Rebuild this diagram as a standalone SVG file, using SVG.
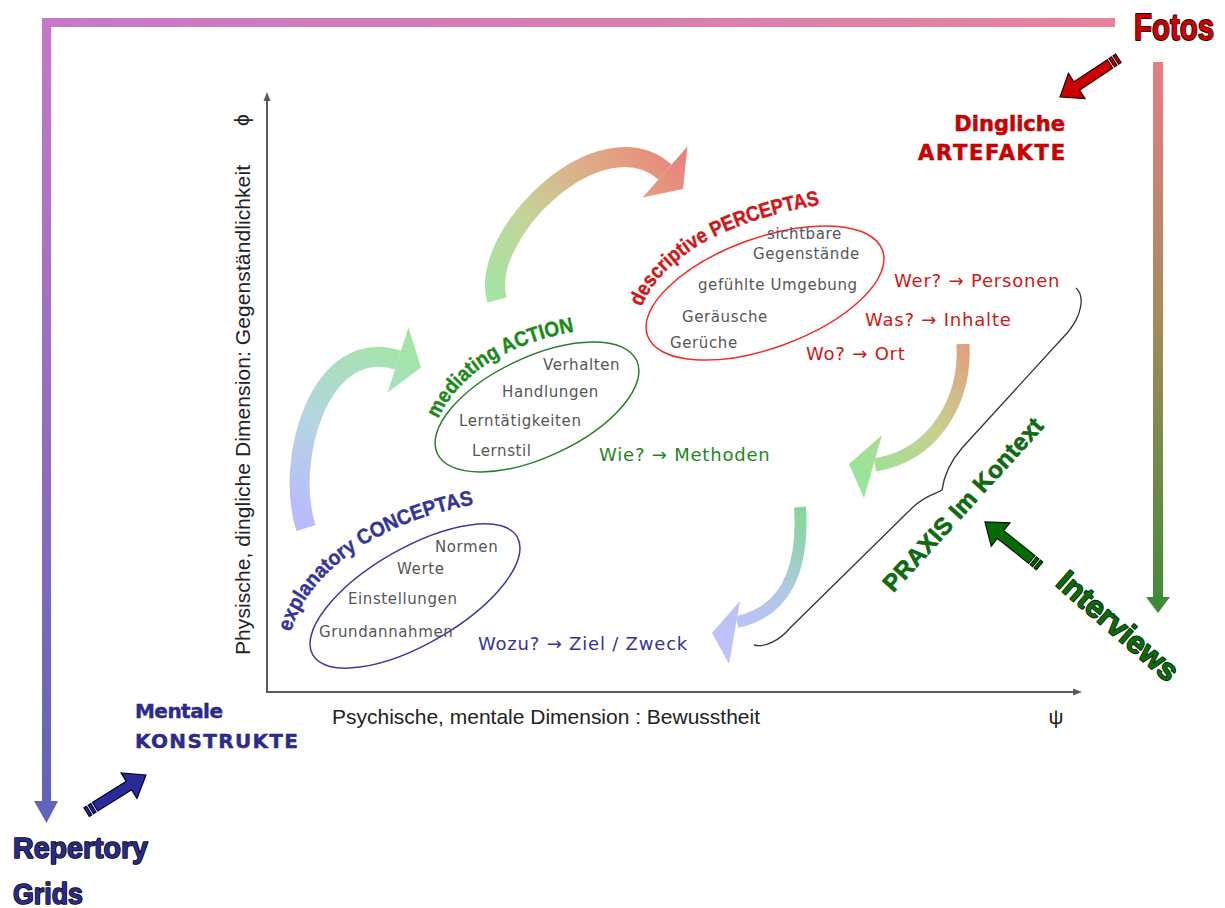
<svg xmlns="http://www.w3.org/2000/svg" width="1225" height="908" viewBox="0 0 1225 908">
  <style>
    .item { font-family: "DejaVu Sans", Verdana, sans-serif; font-size: 15px; fill: #565656; letter-spacing: 0.6px; }
    .q { font-family: "DejaVu Sans", Verdana, sans-serif; font-size: 18px; letter-spacing: 0.8px; }
    .title { font-family: "Liberation Sans", Arial, sans-serif; font-weight: bold; font-size: 21px; stroke-width: 0.4px; }
    .axislbl { font-family: "Liberation Sans", Arial, sans-serif; font-size: 21px; fill: #222; }
    .big { font-family: "Liberation Sans", Arial, sans-serif; font-weight: bold; paint-order: stroke; stroke-linejoin: round; }
    .tag { font-family: "DejaVu Sans", Verdana, sans-serif; font-weight: bold; paint-order: stroke; }
    .red { fill: #d01616; stroke: #d01616; }
    .green { fill: #1b8a1b; stroke: #1b8a1b; }
    .blue { fill: #34349c; stroke: #34349c; }
    .q.red, .q.green, .q.blue { stroke: none; }
    .axis { stroke: #5a5a5a; stroke-width: 2; fill: none; }
    .fat { stroke-width: 1.2; stroke-linejoin: miter; }
  </style>
  <defs>
    <linearGradient id="gTop" x1="42" y1="0" x2="1115" y2="0" gradientUnits="userSpaceOnUse">
      <stop offset="0" stop-color="#c678c8"/>
      <stop offset="1" stop-color="#e4849c"/>
    </linearGradient>
    <linearGradient id="gLeft" x1="0" y1="22" x2="0" y2="822" gradientUnits="userSpaceOnUse">
      <stop offset="0" stop-color="#c678c8"/>
      <stop offset="1" stop-color="#5e62ba"/>
    </linearGradient>
    <linearGradient id="gRight" x1="0" y1="62" x2="0" y2="612" gradientUnits="userSpaceOnUse">
      <stop offset="0" stop-color="#e67c84"/>
      <stop offset="0.45" stop-color="#a88a5c"/>
      <stop offset="1" stop-color="#3f8a38"/>
    </linearGradient>
    <linearGradient id="gA1" x1="300" y1="530" x2="410" y2="345" gradientUnits="userSpaceOnUse">
      <stop offset="0" stop-color="#b8b8ff"/>
      <stop offset="0.45" stop-color="#b4d4e4"/>
      <stop offset="1" stop-color="#a2e6a2"/>
    </linearGradient>
    <linearGradient id="gA2" x1="497" y1="300" x2="690" y2="160" gradientUnits="userSpaceOnUse">
      <stop offset="0" stop-color="#a4e4a4"/>
      <stop offset="0.3" stop-color="#c4d498"/>
      <stop offset="0.6" stop-color="#dcb088"/>
      <stop offset="0.8" stop-color="#e49a80"/>
      <stop offset="1" stop-color="#e8807c"/>
    </linearGradient>
    <linearGradient id="gA3" x1="963" y1="344" x2="855" y2="470" gradientUnits="userSpaceOnUse">
      <stop offset="0" stop-color="#e0a080"/>
      <stop offset="0.5" stop-color="#c8d090"/>
      <stop offset="1" stop-color="#98e498"/>
    </linearGradient>
    <linearGradient id="gA4" x1="800" y1="507" x2="715" y2="640" gradientUnits="userSpaceOnUse">
      <stop offset="0" stop-color="#84d894"/>
      <stop offset="0.5" stop-color="#b0c8e4"/>
      <stop offset="1" stop-color="#c0c0ff"/>
    </linearGradient>
    <!-- block arrow with banded tail; tip at origin, pointing along +x -->
    <path id="fatArrow" d="M0 0 L-20 -15 L-20 -5 L-60 -5 L-60 5 L-20 5 L-20 15 Z M-65 -5 L-62 -5 L-62 5 L-65 5 Z M-70 -5 L-67 -5 L-67 5 L-70 5 Z"/>
    <!-- baselines for the curved titles -->
    <path id="pPerc" d="M 641 308 C 664 255, 725 220, 830 203"/>
    <path id="pAct" d="M 438 420 C 455 380, 500 343, 584 330"/>
    <path id="pConc" d="M 291 633 C 303 580, 370 520, 488 502"/>
  </defs>

  <!-- outer frame of methods -->
  <g id="frame">
    <rect x="42" y="18" width="1073" height="9" fill="url(#gTop)"/>
    <rect x="42" y="22" width="9" height="780" fill="url(#gLeft)"/>
    <polygon points="34,801 58,801 46.5,823" fill="#6064bc"/>
    <rect x="1153" y="62" width="10" height="536" fill="url(#gRight)"/>
    <polygon points="1146,597 1170,597 1158,613" fill="#3f8a38"/>
  </g>

  <!-- coordinate axes -->
  <g id="axes">
    <line class="axis" x1="267" y1="693" x2="267" y2="100"/>
    <polygon points="263.5,101 270.5,101 267,92" fill="#5a5a5a"/>
    <line class="axis" x1="266" y1="692" x2="1074" y2="692"/>
    <polygon points="1073,688.5 1073,695.5 1082,692" fill="#5a5a5a"/>
    <text class="axislbl" transform="translate(250,410) rotate(-90)" text-anchor="middle" textLength="490">Physische, dingliche  Dimension: Gegenständlichkeit</text>
    <text class="axislbl" transform="translate(249,120) rotate(-90)" text-anchor="middle" font-size="19">ϕ</text>
    <text class="axislbl" x="332" y="724" textLength="428">Psychische, mentale Dimension : Bewusstheit</text>
    <text class="axislbl" x="1056" y="724" text-anchor="middle" font-size="18">ψ</text>
  </g>

  <!-- cycle arrows between the three levels -->
  <g id="connectors">
    <path d="M 306 528 C 284 460, 320 335, 398 360" fill="none" stroke="url(#gA1)" stroke-width="20"/>
    <polygon points="387.6,392.4 408.4,327.6 421,367.5" fill="url(#gA1)"/>
    <path d="M 497 300 C 478 235, 600 115, 665 172" fill="none" stroke="url(#gA2)" stroke-width="20"/>
    <polygon points="642.6,197.6 687.4,146.4 683,189" fill="url(#gA2)"/>
    <path d="M 963 344 C 966 400, 935 455, 875 465" fill="none" stroke="url(#gA3)" stroke-width="13"/>
    <polygon points="882,435 849,464 864,498" fill="url(#gA3)"/>
    <path d="M 800 507 C 804 570, 785 612, 737 622" fill="none" stroke="url(#gA4)" stroke-width="12"/>
    <polygon points="740,601 712,633 729,664" fill="url(#gA4)"/>
    <!-- brace grouping the three questions into practice -->
    <path d="M 1076 288 C 1085 296, 1082 315, 1068 332 L 962 448 C 950 462, 944 475, 942 490 C 936 494, 925 495, 912 508 L 790 628 C 780 640, 765 648, 754 645" fill="none" stroke="#333" stroke-width="1.3"/>
    <!-- method arrows -->
    <use href="#fatArrow" class="fat" fill="#cc0000" stroke="#2a0000" transform="translate(1060,97) rotate(146.5)"/>
    <use href="#fatArrow" class="fat" fill="#2a2a98" stroke="#000030" transform="translate(146,775) rotate(-32)"/>
    <use href="#fatArrow" class="fat" fill="#066a06" stroke="#001a00" transform="translate(985,522) rotate(-141.3)"/>
  </g>

  <g id="perceptas">
    <ellipse cx="765" cy="293" rx="125" ry="55" transform="rotate(-20 765 293)" fill="none" stroke="#f02a2a" stroke-width="1.5"/>
    <text class="title red"><textPath href="#pPerc" startOffset="1" textLength="214" lengthAdjust="spacingAndGlyphs">descriptive PERCEPTAS</textPath></text>
    <text class="item" x="767" y="239">sichtbare</text>
    <text class="item" x="753" y="259">Gegenstände</text>
    <text class="item" x="698" y="290">gefühlte Umgebung</text>
    <text class="item" x="682" y="322">Geräusche</text>
    <text class="item" x="670" y="348">Gerüche</text>
    <text class="q red" x="894" y="287">Wer? → Personen</text>
    <text class="q red" x="865" y="326">Was? → Inhalte</text>
    <text class="q red" x="806" y="360">Wo? → Ort</text>
  </g>

  <g id="action">
    <ellipse cx="537" cy="407" rx="110" ry="50" transform="rotate(-25 537 407)" fill="none" stroke="#2a7e2a" stroke-width="1.5"/>
    <text class="title green"><textPath href="#pAct" startOffset="1" textLength="168" lengthAdjust="spacingAndGlyphs">mediating ACTION</textPath></text>
    <text class="item" x="543" y="370">Verhalten</text>
    <text class="item" x="502" y="397">Handlungen</text>
    <text class="item" x="459" y="426">Lerntätigkeiten</text>
    <text class="item" x="472" y="456">Lernstil</text>
    <text class="q green" x="599" y="461">Wie? → Methoden</text>
  </g>

  <g id="conceptas">
    <ellipse cx="415" cy="596" rx="118" ry="48" transform="rotate(-30 415 596)" fill="none" stroke="#3a3aa4" stroke-width="1.5"/>
    <text class="title blue"><textPath href="#pConc" startOffset="1" textLength="234" lengthAdjust="spacingAndGlyphs">explanatory CONCEPTAS</textPath></text>
    <text class="item" x="435" y="552">Normen</text>
    <text class="item" x="397" y="574">Werte</text>
    <text class="item" x="348" y="604">Einstellungen</text>
    <text class="item" x="319" y="637">Grundannahmen</text>
    <text class="q blue" x="478" y="650">Wozu? → Ziel / Zweck</text>
  </g>

  <g id="praxis">
    <text class="big" font-size="24" fill="#0b6e0b" stroke="#053805" stroke-width="0.6" text-anchor="middle" textLength="225" transform="translate(969,510) rotate(-47.7)">PRAXIS Im Kontext</text>
  </g>

  <g id="fotos">
    <text class="big" x="1134" y="40" font-size="36" fill="#cc0000" stroke="#1a0000" stroke-width="1.8" textLength="80" lengthAdjust="spacingAndGlyphs">Fotos</text>
    <text class="tag" x="1065" y="131" font-size="21" fill="#cc0000" stroke="#6a0000" stroke-width="0.5" text-anchor="end">Dingliche</text>
    <text class="tag" x="918" y="160" font-size="21" fill="#cc0000" stroke="#6a0000" stroke-width="0.5" textLength="147">ARTEFAKTE</text>
  </g>

  <g id="interviews">
    <text class="big" font-size="31" fill="#0b6b0b" stroke="#001a00" stroke-width="1.6" text-anchor="middle" textLength="150" lengthAdjust="spacingAndGlyphs" transform="translate(1111,634) rotate(41)">Interviews</text>
  </g>

  <g id="repertory">
    <text class="tag" x="135" y="718" font-size="20" fill="#2a2a90" stroke="#10104a" stroke-width="0.4" textLength="88">Mentale</text>
    <text class="tag" x="135" y="748" font-size="20" fill="#2a2a90" stroke="#10104a" stroke-width="0.4" textLength="163">KONSTRUKTE</text>
    <text class="big" x="13" y="858" font-size="29" fill="#2a2a88" stroke="#000" stroke-width="1.5" textLength="135" lengthAdjust="spacingAndGlyphs">Repertory</text>
    <text class="big" x="13" y="904" font-size="29" fill="#2a2a88" stroke="#000" stroke-width="1.5" textLength="70" lengthAdjust="spacingAndGlyphs">Grids</text>
  </g>
</svg>
